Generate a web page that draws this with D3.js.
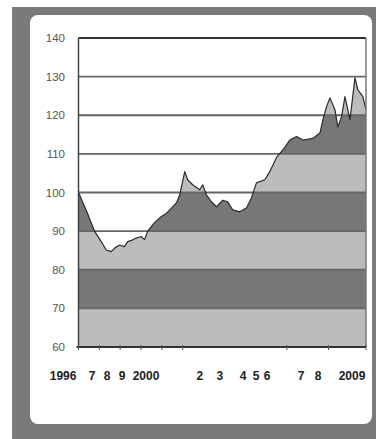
<!DOCTYPE html>
<html>
<head>
<meta charset="utf-8">
<script src="https://cdn.jsdelivr.net/npm/d3@7"></script>
<style>
  body { margin: 0; background: #fff; }
  svg { display: block; font-family: "Liberation Sans", Arial, sans-serif; }
</style>
</head>
<body>
<div id="vis"></div>
<script>
// index, 1996 = 100
const years = [1996.0, 1996.4, 1996.77, 1997.09, 1997.33, 1997.57, 1997.73, 1997.97, 1998.2, 1998.36,
  1998.55, 1998.77, 1999.01, 1999.17, 1999.32, 1999.65, 1999.98, 2000.2, 2000.38, 2000.7, 2000.86,
  2001.1, 2001.24, 2001.48, 2001.82, 2001.96, 2002.14, 2002.38, 2002.62, 2002.92, 2003.16, 2003.4,
  2003.74, 2004.06, 2004.3, 2004.54, 2004.94, 2005.18, 2005.5, 2005.9, 2006.14, 2006.47, 2006.77,
  2007.25, 2007.59, 2007.73, 2007.91, 2008.07, 2008.31, 2008.45, 2008.63, 2008.79, 2009.03, 2009.27,
  2009.41, 2009.65, 2009.8]
const values = [100, 95, 90, 87.3, 85.1, 84.7, 85.6, 86.4, 86.0, 87.3,
  87.6, 88.2, 88.6, 87.8, 90, 92.2, 93.8, 94.5, 95.5, 97.3, 99.4,
  105.4, 103.3, 102, 100.7, 102, 99.4, 97.6, 96.3, 98, 97.6, 95.5,
  95, 96, 98.6, 102.5, 103.3, 105.4, 109, 111.6, 113.6, 114.5, 113.6,
  114, 115.4, 118.8, 122.3, 124.5, 121.4, 117, 119.7, 124.8, 118.8, 129.7,
  126.6, 124.8, 121.4]

const yTicks = [60, 70, 80, 90, 100, 110, 120, 130, 140]
const xLabels = ['1996', '7', '8', '9', '2000', '2', '3', '4', '5', '6', '7', '8', '2009']
// where each label sits along the time axis in the picture
const xLabelAt = [1995.26, 1996.65, 1997.37, 1998.09, 1999.24, 2001.83, 2002.79, 2003.9, 2004.52,
  2005.05, 2006.68, 2007.5, 2009.13]
const xTickAt = [1996, 1997, 1998, 1999, 2000, 2001, 2006, 2008, 2009.8]

const W = 376, H = 439
const plot = {left: 78.5, right: 366, top: 38, bottom: 347}

const svg = d3.select('#vis').append('svg')
    .attr('width', W)
    .attr('height', H)

// frame
svg.append('rect').attr('x', 12).attr('y', 7).attr('width', W - 12).attr('height', H - 7)
    .attr('fill', '#7a7a7a')
svg.append('rect').attr('x', 30).attr('y', 15).attr('width', 342).attr('height', 409)
    .attr('rx', 8).attr('fill', '#fff')

const x = d3.scaleLinear().domain([1996, 2009.8]).range([plot.left, plot.right])
const y = d3.scaleLinear().domain([60, 140]).range([plot.bottom, plot.top])

const data = years.map((yr, i) => ({yr: yr, v: values[i]}))

const area = d3.area()
    .x(d => x(d.yr))
    .y0(y(60))
    .y1(d => y(d.v))
const line = d3.line()
    .x(d => x(d.yr))
    .y(d => y(d.v))

svg.append('clipPath').attr('id', 'under')
  .append('path')
    .attr('d', area(data))

// alternating bands, only visible under the curve
const bands = d3.pairs(yTicks)
svg.append('g')
    .attr('clip-path', 'url(#under)')
  .selectAll('rect')
  .data(bands)
  .join('rect')
    .attr('x', plot.left)
    .attr('width', plot.right - plot.left)
    .attr('y', d => y(d[1]))
    .attr('height', d => y(d[0]) - y(d[1]))
    .attr('fill', (d, i) => i % 2 ? '#777' : '#bcbcbc')

// grid lines
svg.append('g')
  .selectAll('line')
  .data(yTicks.slice(1, -1))
  .join('line')
    .attr('x1', plot.left)
    .attr('x2', plot.right)
    .attr('y1', d => y(d))
    .attr('y2', d => y(d))
    .attr('stroke', '#666')
    .attr('stroke-width', 1.8)

// the series
svg.append('path')
    .attr('d', line(data))
    .attr('fill', 'none')
    .attr('stroke', '#2a2a2a')
    .attr('stroke-width', 1.2)
    .attr('stroke-linejoin', 'round')

// plot border
svg.append('line').attr('x1', plot.left).attr('x2', plot.right)
    .attr('y1', y(140)).attr('y2', y(140)).attr('stroke', '#333').attr('stroke-width', 2)
svg.append('line').attr('x1', plot.left).attr('x2', plot.left)
    .attr('y1', y(140)).attr('y2', y(60)).attr('stroke', '#444').attr('stroke-width', 1.5)
svg.append('line').attr('x1', plot.right).attr('x2', plot.right)
    .attr('y1', y(140)).attr('y2', y(60)).attr('stroke', '#777').attr('stroke-width', 1.5)
svg.append('line').attr('x1', plot.left - 2).attr('x2', plot.right)
    .attr('y1', y(60)).attr('y2', y(60)).attr('stroke', '#333').attr('stroke-width', 2)

// x tick marks
svg.append('g')
  .selectAll('line')
  .data(xTickAt)
  .join('line')
    .attr('x1', d => x(d))
    .attr('x2', d => x(d))
    .attr('y1', y(60) - 2)
    .attr('y2', y(60) + 3)
    .attr('stroke', '#555')
    .attr('stroke-width', 1)

// y labels
svg.append('g')
  .selectAll('text')
  .data(yTicks)
  .join('text')
    .attr('x', 65)
    .attr('y', d => y(d))
    .attr('dy', '0.35em')
    .attr('text-anchor', 'end')
    .attr('font-size', 11.5)
    .attr('fill', '#555')
    .text(d => d)

// x labels
svg.append('g')
  .selectAll('text')
  .data(xLabels)
  .join('text')
    .attr('x', (d, i) => x(xLabelAt[i]))
    .attr('y', 380)
    .attr('text-anchor', 'middle')
    .attr('font-size', 12)
    .attr('font-weight', 'bold')
    .attr('fill', '#222')
    .text(d => d)
</script>
</body>
</html>
